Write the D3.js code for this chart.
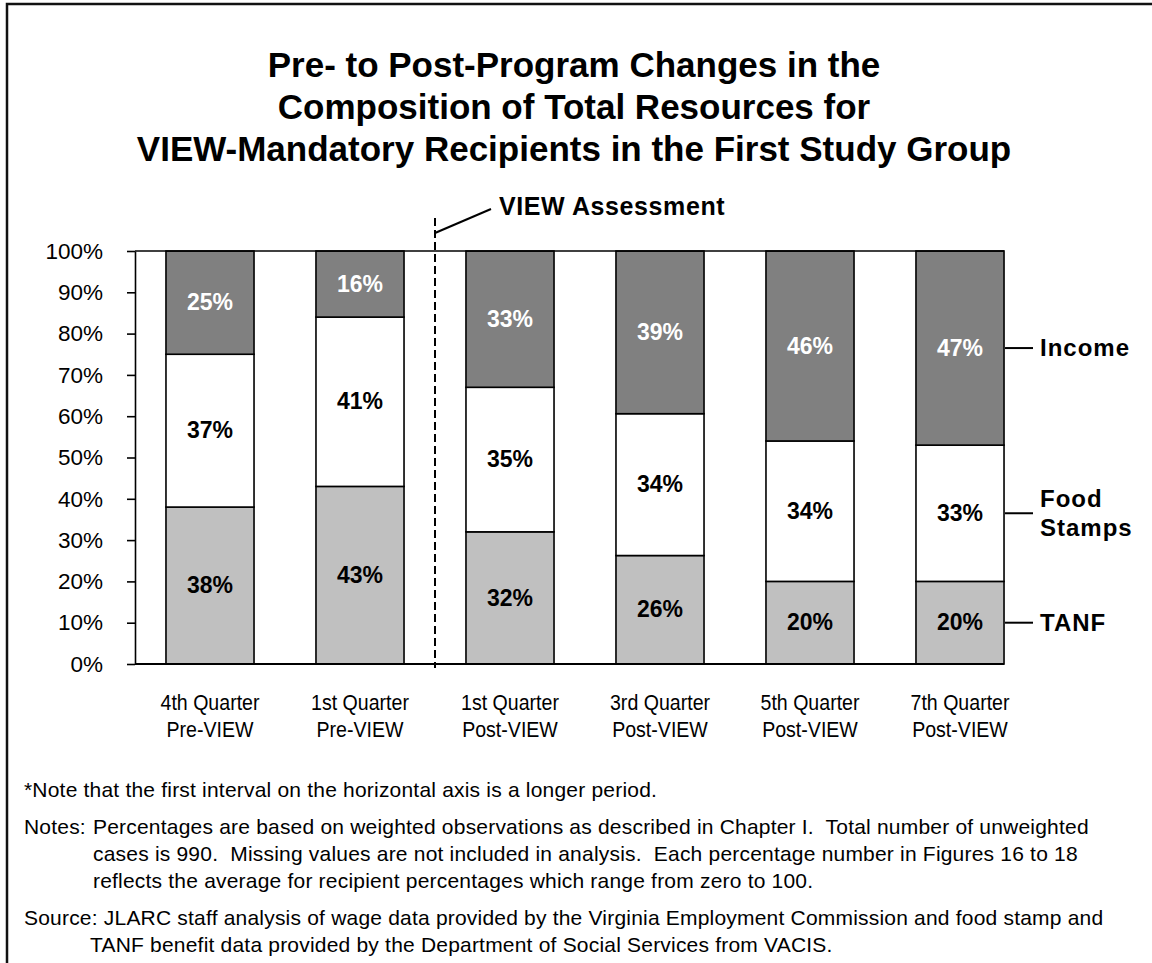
<!DOCTYPE html>
<html>
<head>
<meta charset="utf-8">
<script src="https://cdn.jsdelivr.net/npm/d3@7"></script>
<style>
  body { margin: 0; background: #fff; }
  svg { display: block; font-family: "Liberation Sans", Arial, sans-serif; }
</style>
</head>
<body>
<div id="chart"></div>
<script>
// chart data
var quarterLabels = ["4th Quarter", "1st Quarter", "1st Quarter", "3rd Quarter", "5th Quarter", "7th Quarter"];
var periodLabels = ["Pre-VIEW", "Pre-VIEW", "Post-VIEW", "Post-VIEW", "Post-VIEW", "Post-VIEW"];
var seriesNames = ["TANF", "Food Stamps", "Income"];
var tanf = [38, 43, 32, 26, 20, 20];
var foodStamps = [37, 41, 35, 34, 34, 33];
var income = [25, 16, 33, 39, 46, 47];
var titleLines = [
  "Pre- to Post-Program Changes in the",
  "Composition of Total Resources for",
  "VIEW-Mandatory Recipients in the First Study Group"
];

var width = 1152, height = 963;
var colors = { "TANF": "#c0c0c0", "Food Stamps": "#ffffff", "Income": "#808080" };
var labelColors = { "TANF": "#000", "Food Stamps": "#000", "Income": "#fff" };

// rows for d3.stack
var rows = quarterLabels.map(function (q, i) {
  return { key: i, "TANF": tanf[i], "Food Stamps": foodStamps[i], "Income": income[i] };
});
var stacked = d3.stack().keys(seriesNames).offset(d3.stackOffsetExpand)(rows);

var svg = d3.select('#chart').append('svg')
  .attr('width', width)
  .attr('height', height);

// outer frame (runs off right and bottom edges like the scan)
svg.append('rect')
  .attr('x', 7).attr('y', 4)
  .attr('width', width + 20).attr('height', height + 20)
  .attr('fill', 'none').attr('stroke', '#111').attr('stroke-width', 2.5);

// title
svg.append('g').selectAll('text')
  .data(titleLines)
  .enter().append('text')
  .attr('x', 574)
  .attr('y', function (d, i) { return 77 + i * 42; })
  .attr('text-anchor', 'middle')
  .style('font-size', '35px')
  .style('font-weight', 'bold')
  .text(function (d) { return d; });

// scales
var x = d3.scaleBand()
  .domain(d3.range(quarterLabels.length))
  .range([135, 1035])
  .paddingInner(0.413)
  .paddingOuter(0.2065);
var y = d3.scaleLinear().domain([0, 1]).range([664, 251]);

var plotRight = x(quarterLabels.length - 1) + x.bandwidth();

// bars
var layers = svg.append('g').selectAll('g')
  .data(stacked)
  .enter().append('g');

layers.selectAll('rect')
  .data(function (d) { return d; })
  .enter().append('rect')
  .attr('x', function (d, i) { return x(i); })
  .attr('y', function (d) { return y(d[1]); })
  .attr('width', x.bandwidth())
  .attr('height', function (d) { return y(d[0]) - y(d[1]); })
  .style('fill', function (d, i, nodes) { return colors[d3.select(nodes[i].parentNode).datum().key]; })
  .style('stroke', '#000')
  .style('stroke-width', 1.6);

// value labels
layers.each(function (layer) {
  d3.select(this).selectAll('text')
    .data(layer)
    .enter().append('text')
    .attr('x', function (d, i) { return x(i) + x.bandwidth() / 2; })
    .attr('y', function (d) { return (y(d[0]) + y(d[1])) / 2; })
    .attr('dy', '0.33em')
    .attr('text-anchor', 'middle')
    .style('font-size', '23px')
    .style('font-weight', 'bold')
    .style('fill', labelColors[layer.key])
    .text(function (d) { return d.data[layer.key] + '%'; });
});

// y axis
var yAxis = svg.append('g')
  .attr('transform', 'translate(135,0)')
  .call(d3.axisLeft(y).ticks(10).tickFormat(d3.format('.0%')).tickSize(8).tickSizeOuter(0).tickPadding(24));
yAxis.selectAll('text').style('font-size', '22.5px').style('fill', '#000').style('font-family', '"Liberation Sans", Arial, sans-serif');
yAxis.selectAll('line, path').style('stroke', '#000').style('stroke-width', 1.6);

// top and bottom frame lines of the plot
svg.append('line')
  .attr('x1', 135).attr('x2', plotRight)
  .attr('y1', y(1)).attr('y2', y(1))
  .style('stroke', '#000').style('stroke-width', 1.6);
svg.append('line')
  .attr('x1', 135).attr('x2', plotRight)
  .attr('y1', y(0)).attr('y2', y(0))
  .style('stroke', '#000').style('stroke-width', 2);

// x labels (condensed)
var xl = svg.append('g').selectAll('g')
  .data(quarterLabels)
  .enter().append('g')
  .attr('transform', function (d, i) { return 'translate(' + (x(i) + x.bandwidth() / 2) + ',0) scale(0.89,1)'; });
xl.append('text')
  .attr('y', 710)
  .attr('text-anchor', 'middle')
  .style('font-size', '22px')
  .text(function (d) { return d; });
xl.append('text')
  .attr('y', 737)
  .attr('text-anchor', 'middle')
  .style('font-size', '22px')
  .text(function (d, i) { return periodLabels[i]; });

// VIEW assessment marker between 2nd and 3rd bars
var markX = (x(1) + x.bandwidth() + x(2)) / 2;
svg.append('line')
  .attr('x1', markX).attr('x2', markX)
  .attr('y1', 218).attr('y2', y(0) + 4)
  .style('stroke', '#000').style('stroke-width', 2)
  .style('stroke-dasharray', '8,4');
svg.append('line')
  .attr('x1', markX).attr('y1', 233)
  .attr('x2', markX + 56).attr('y2', 209)
  .style('stroke', '#000').style('stroke-width', 2);
svg.append('text')
  .attr('x', markX + 64).attr('y', 215)
  .style('font-size', '25px').style('font-weight', 'bold')
  .style('letter-spacing', '0.6px')
  .text('VIEW Assessment');

// series labels at the right of the last bar
var last = quarterLabels.length - 1;
var legend = svg.append('g').selectAll('g')
  .data(stacked)
  .enter().append('g')
  .attr('transform', function (d) { return 'translate(' + plotRight + ',' + (y(d[last][0]) + y(d[last][1])) / 2 + ')'; });
legend.append('line')
  .attr('x1', 1).attr('x2', 29)
  .style('stroke', '#000').style('stroke-width', 2);
legend.append('text')
  .attr('x', 36)
  .style('font-size', '24px').style('font-weight', 'bold')
  .style('letter-spacing', '1px')
  .each(function (d) {
    var words = d.key.split(' ');
    var t = d3.select(this);
    words.forEach(function (w, j) {
      t.append('tspan')
        .attr('x', 36)
        .attr('dy', j === 0 ? (0.35 - (words.length - 1) * 0.6) + 'em' : '1.2em')
        .text(w);
    });
  });

// footnotes
var notes = svg.append('g').style('font-size', '21px').style('letter-spacing', '0.2px');
notes.append('text').attr('x', 24).attr('y', 797)
  .text('*Note that the first interval on the horizontal axis is a longer period.');
notes.append('text').attr('x', 24).attr('y', 834).text('Notes:');
var noteLines = [
  'Percentages are based on weighted observations as described in Chapter I.  Total number of unweighted',
  'cases is 990.  Missing values are not included in analysis.  Each percentage number in Figures 16 to 18',
  'reflects the average for recipient percentages which range from zero to 100.'
];
notes.selectAll('.nl').data(noteLines).enter().append('text')
  .attr('class', 'nl')
  .attr('x', 93).attr('y', function (d, i) { return 834 + i * 27; })
  .style('white-space', 'pre')
  .text(function (d) { return d; });
notes.append('text').attr('x', 24).attr('y', 925)
  .text('Source: JLARC staff analysis of wage data provided by the Virginia Employment Commission and food stamp and');
notes.append('text').attr('x', 90).attr('y', 952)
  .text('TANF benefit data provided by the Department of Social Services from VACIS.');
</script>
</body>
</html>
